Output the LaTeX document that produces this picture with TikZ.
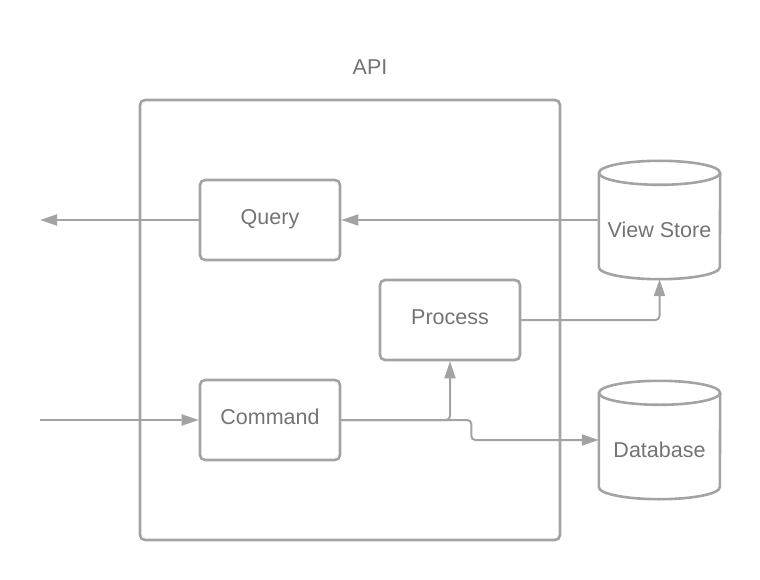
\documentclass[tikz,border=0pt]{standalone}
\usepackage{fontspec}
\setmainfont{Liberation Sans}
\usepackage{xcolor}
\usepackage{tikz}
\usetikzlibrary{arrows.meta}
\definecolor{edgegray}{HTML}{A3A3A3}
\definecolor{textgray}{HTML}{737373}

\begin{document}
\begin{tikzpicture}[x=1pt, y=-1pt,
  box/.style={draw=edgegray, line width=2.6pt, rounded corners=5pt, minimum width=140pt, minimum height=80pt, inner sep=0pt, text=textgray, font=\fontsize{21.5}{25}\selectfont, text height=14pt, text depth=6pt},
  store/.style={minimum width=121pt, minimum height=118pt, inner sep=0pt, text=textgray, font=\fontsize{21.5}{25}\selectfont, text height=35pt, text depth=0pt},
  link/.style={draw=edgegray, line width=2pt, rounded corners=4pt},
  tip/.style={-{Triangle[length=17pt, width=11pt]}}]
\useasboundingbox (0,0) rectangle (760,580);
\node[box, minimum width=420pt, minimum height=440pt] (API) at (350,320){};
\node[text=textgray, font=\fontsize{21.5}{25}\selectfont] (APILabel) at (370,67){API};
\node[box] (Query) at (270,220){Query};
\node[box] (Process) at (450,320){Process};
\node[box] (Command) at (270,420){Command};
\node[store] (ViewStore) at (659.5,220){View Store};
\node[store] (Database) at (659.5,440){Database};
% cylinders round the two stores
\foreach \s in {ViewStore,Database}{
  \draw[edgegray, line width=2.6pt] ([yshift=-12pt]\s.north) ellipse [x radius=60.5pt, y radius=12pt];
  \draw[edgegray, line width=2.6pt, line join=round] ([yshift=-12pt]\s.north west) -- ([yshift=12pt]\s.south west) arc[start angle=180, end angle=360, x radius=60.5pt, y radius=12pt] -- ([yshift=-12pt]\s.north east);
}
\coordinate (QueryOut) at (40,220);
\coordinate (CommandIn) at (40,420);
\draw[link, tip] (ViewStore.west) -- (Query.east);
\draw[link, tip] (Query.west) -- (QueryOut);
\draw[link, tip] (CommandIn) -- (Command.west);
\draw[link, tip] (Command.east) -| (Process.south);
\draw[link, tip] (Command.east) -- ++(130,0) |- (Database.west);
\draw[link, tip] (Process.east) -| (ViewStore.south);
\end{tikzpicture}
\end{document}
